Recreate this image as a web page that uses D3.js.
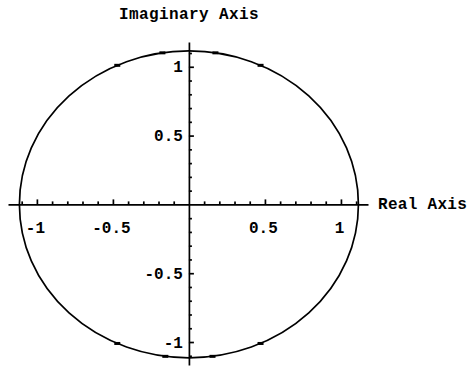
<!DOCTYPE html>
<html>
<head>
<meta charset="utf-8">
<script src="https://cdn.jsdelivr.net/npm/d3@7"></script>
<style>
  html, body { margin: 0; padding: 0; background: #fff; }
  svg { display: block; }
  text { font-family: "Liberation Mono", "Courier New", monospace; font-weight: bold; fill: #000; }
</style>
</head>
<body>
<svg id="chart" width="468" height="367"></svg>
<script>
// Axis extents (data units) and tick values
const xExtent = [-1.19, 1.178];
const yExtent = [-1.167, 1.18];
const xMinorTicks = [-1.1, -0.9, -0.8, -0.7, -0.6, -0.4, -0.3, -0.2, -0.1, 0.1, 0.2, 0.3, 0.4, 0.6, 0.7, 0.8, 0.9, 1.1];
const xMajorTicks = [-1, -0.5, 0.5, 1];
const yMinorTicks = [-1.1, -0.9, -0.8, -0.7, -0.6, -0.4, -0.3, -0.2, -0.1, 0.1, 0.2, 0.3, 0.4, 0.6, 0.7, 0.8, 0.9, 1.1];
const yMajorTicks = [-1, -0.5, 0.5, 1];
const xTickLabels = ["-1", "-0.5", "0.5", "1"];
const yTickLabels = ["-1", "-0.5", "0.5", "1"];

// Locus: circle centred on the origin
const circleCenter = [0, 0];
const circleRadius = 1.115;
// Plotted sample points that show as heavier dots on the curve (degrees)
const markerAngles = [65, 81, 99, 115, 245, 262, 278, 295];

const svg = d3.select("#chart");
const x = d3.scaleLinear().domain(xExtent).range([8, 368]);
const y = d3.scaleLinear().domain(yExtent).range([365, 42]);
const x0 = x(0), y0 = y(0);

const fmt = (labels, ticks) => (d) => labels[ticks.indexOf(d)];

// Horizontal (real) axis: line + ticks pointing up
const gx = svg.append("g").attr("transform", `translate(0,${y0})`);
gx.call(d3.axisTop(x).tickValues(xMinorTicks).tickSize(3).tickSizeOuter(0).tickFormat(""));
gx.append("g").call(d3.axisTop(x).tickValues(xMajorTicks).tickSize(5).tickFormat(""))
  .select(".domain").remove();
gx.selectAll(".domain").attr("stroke", "#000").attr("stroke-width", 1.7);
gx.selectAll(".tick line").attr("stroke", "#000").attr("stroke-width", 1.7);

// Horizontal tick labels below the axis
const gxl = svg.append("g").attr("transform", `translate(-2,${y0})`)
  .call(d3.axisBottom(x).tickValues(xMajorTicks).tickSize(0).tickPadding(17)
    .tickFormat(fmt(xTickLabels, xMajorTicks)));
gxl.select(".domain").remove();
gxl.selectAll("text").attr("font-size", 16)
  .style("font-family", '"Liberation Mono", monospace').style("font-weight", "bold");

// Vertical (imaginary) axis: line + ticks pointing right
const gy = svg.append("g").attr("transform", `translate(${x0},0)`);
gy.call(d3.axisRight(y).tickValues(yMinorTicks).tickSize(3).tickSizeOuter(0).tickFormat(""));
gy.append("g").call(d3.axisRight(y).tickValues(yMajorTicks).tickSize(5).tickFormat(""))
  .select(".domain").remove();
gy.selectAll(".domain").attr("stroke", "#000").attr("stroke-width", 1.7);
gy.selectAll(".tick line").attr("stroke", "#000").attr("stroke-width", 1.7);

// Vertical tick labels left of the axis
const gyl = svg.append("g").attr("transform", `translate(${x0},0)`)
  .call(d3.axisLeft(y).tickValues(yMajorTicks).tickSize(0).tickPadding(6)
    .tickFormat(fmt(yTickLabels, yMajorTicks)));
gyl.select(".domain").remove();
gyl.selectAll("text").attr("font-size", 16)
  .style("font-family", '"Liberation Mono", monospace').style("font-weight", "bold");

// Circle locus
const cx = x(circleCenter[0]), cy = y(circleCenter[1]);
svg.append("ellipse")
  .attr("cx", cx).attr("cy", cy)
  .attr("rx", x(circleCenter[0] + circleRadius) - cx)
  .attr("ry", cy - y(circleCenter[1] + circleRadius))
  .attr("fill", "none").attr("stroke", "#000").attr("stroke-width", 1.7);

// Heavier sample dots on the locus
svg.append("g").selectAll("rect").data(markerAngles).join("rect")
  .attr("x", d => x(circleCenter[0] + circleRadius * Math.cos(d * Math.PI / 180)) - 3)
  .attr("y", d => y(circleCenter[1] + circleRadius * Math.sin(d * Math.PI / 180)) - 1.5)
  .attr("width", 6).attr("height", 3).attr("fill", "#000");

// Axis titles
svg.append("text").attr("x", x0).attr("y", 19).attr("text-anchor", "middle")
  .attr("font-size", 16).attr("letter-spacing", 0.4).text("Imaginary Axis");
svg.append("text").attr("x", 378).attr("y", y0 + 5).attr("text-anchor", "start")
  .attr("font-size", 16).attr("letter-spacing", 0.3).text("Real Axis");
</script>
</body>
</html>
